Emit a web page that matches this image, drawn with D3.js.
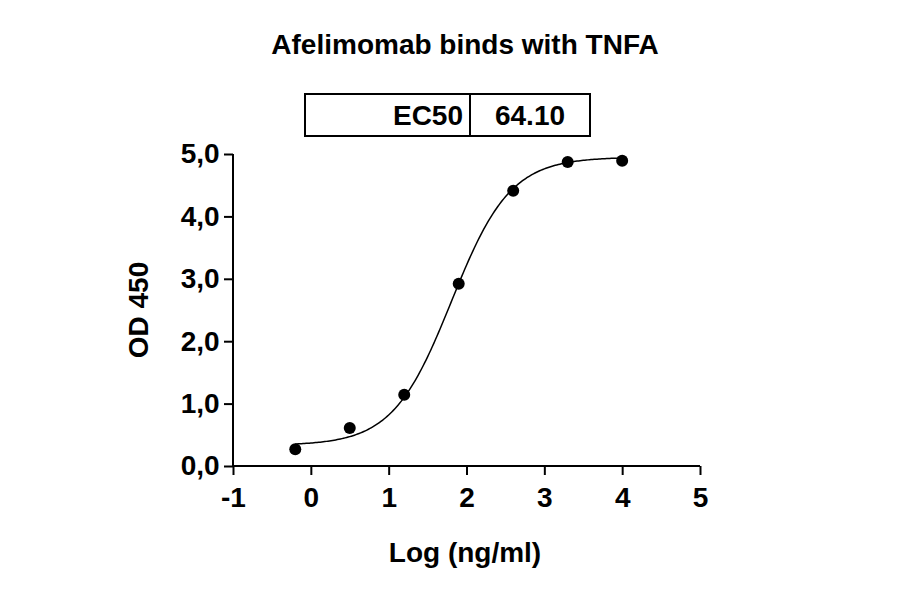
<!DOCTYPE html>
<html><head><meta charset="utf-8">
<script src="https://cdn.jsdelivr.net/npm/d3@7"></script>
<style>body{margin:0;background:#fff}text{font-family:"Liberation Sans",Arial,sans-serif;font-weight:bold}</style>
</head><body>
<svg id="c" width="900" height="594"></svg>
<script>
const xVals=[-0.2,0.5,1.2,1.9,2.6,3.3,4.0];
const yVals=[0.27,0.61,1.14,2.92,4.41,4.87,4.89];
const xTicks=[-1,0,1,2,3,4,5];
const yTicks=[0,1,2,3,4,5];
const fit={bottom:0.33,top:4.95,logEC50:1.807,hill:1.15};
const ec50Label="64.10";

const svg=d3.select("#c");
const x=d3.scaleLinear().domain([-1,5]).range([233,700]);
const y=d3.scaleLinear().domain([0,5]).range([466,154]);

svg.append("text").attr("x",465).attr("y",54).attr("text-anchor","middle").attr("font-size",28).text("Afelimomab binds with TNFA");

const xa=svg.append("g").attr("transform","translate(0,466)").call(d3.axisBottom(x).tickValues(xTicks).tickSize(9).tickFormat(d=>String(d)));
const ya=svg.append("g").attr("transform","translate(233,0)").call(d3.axisLeft(y).tickValues(yTicks).tickSize(9).tickFormat(d=>d.toFixed(1).replace(".",",")));
[xa,ya].forEach(a=>{a.selectAll("path,line").attr("stroke","#000").attr("stroke-width",2);a.selectAll("text").attr("font-size",28).attr("fill","#000").style("font-family","Liberation Sans, Arial").style("font-weight","bold");a.select(".domain").attr("d",null);});
xa.append("line").attr("x1",233).attr("x2",700).attr("stroke","#000").attr("stroke-width",2);
ya.append("line").attr("y1",154).attr("y2",466).attr("stroke","#000").attr("stroke-width",2);
xa.selectAll(".tick text").attr("dy","1.05em");
ya.selectAll(".tick text").attr("dx","-0.05em");

svg.append("text").attr("x",465).attr("y",562).attr("text-anchor","middle").attr("font-size",28).text("Log (ng/ml)");
svg.append("text").attr("transform","translate(148,310) rotate(-90)").attr("text-anchor","middle").attr("font-size",28).text("OD 450");

const f=t=>fit.bottom+(fit.top-fit.bottom)/(1+Math.pow(10,(fit.logEC50-t)*fit.hill));
const cx=d3.range(xVals[0],xVals[xVals.length-1]+0.001,0.02);
svg.append("path").attr("d",d3.line().x(d=>x(d)).y(d=>y(f(d)))(cx)).attr("fill","none").attr("stroke","#000").attr("stroke-width",1.5);
svg.selectAll("circle").data(xVals).enter().append("circle").attr("cx",d=>x(d)).attr("cy",(d,i)=>y(yVals[i])).attr("r",6).attr("fill","#000");

svg.append("rect").attr("x",305).attr("y",94).attr("width",285).attr("height",42).attr("fill","none").attr("stroke","#000").attr("stroke-width",2);
svg.append("line").attr("x1",470).attr("x2",470).attr("y1",94).attr("y2",136).attr("stroke","#000").attr("stroke-width",2);
svg.append("text").attr("x",463).attr("y",125).attr("text-anchor","end").attr("font-size",28).text("EC50");
svg.append("text").attr("x",530).attr("y",125).attr("text-anchor","middle").attr("font-size",28).text(ec50Label);
</script></body></html>
